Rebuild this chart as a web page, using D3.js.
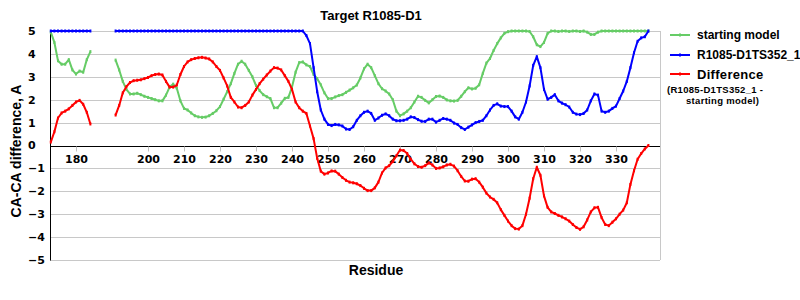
<!DOCTYPE html>
<html>
<head>
<meta charset="utf-8">
<script src="https://cdn.jsdelivr.net/npm/d3@7"></script>
<style>
  html, body { margin: 0; padding: 0; background: #fff; }
  svg { display: block; }
</style>
</head>
<body>
<svg id="chart" width="800" height="300"></svg>
<script>
// ---------- DATA ----------
const title = "Target R1085-D1";
const yTitle = "CA-CA difference, A";
const xTitle = "Residue";
const seriesNames = ["starting model", "R1085-D1TS352_1", "Difference"];
const diffNote = ["(R1085-D1TS352_1 -", "starting model)"];
const xTickValues = [180, 200, 210, 220, 230, 240, 250, 260, 270, 280, 290, 300, 310, 320, 330];
const yTickValues = [-5, -4, -3, -2, -1, 0, 1, 2, 3, 4, 5];

// residues 173..339 (185-190 have no data)
const residues = [
  173,174,175,176,177,178,179,180,181,182,183,184,
  185,186,187,188,189,190,
  191,192,193,194,195,196,197,198,199,200,
  201,202,203,204,205,206,207,208,209,210,
  211,212,213,214,215,216,217,218,219,220,
  221,222,223,224,225,226,227,228,229,230,
  231,232,233,234,235,236,237,238,239,240,
  241,242,243,244,245,246,247,248,249,250,
  251,252,253,254,255,256,257,258,259,260,
  261,262,263,264,265,266,267,268,269,270,
  271,272,273,274,275,276,277,278,279,280,
  281,282,283,284,285,286,287,288,289,290,
  291,292,293,294,295,296,297,298,299,300,
  301,302,303,304,305,306,307,308,309,310,
  311,312,313,314,315,316,317,318,319,320,
  321,322,323,324,325,326,327,328,329,330,
  331,332,333,334,335,336,337,338,339
];

const startingModel = [
  4.95,4.5,3.7,3.55,3.55,3.75,3.3,3.12,3.25,3.2,3.75,4.1,
  null,null,null,null,null,null,
  3.73,3.3,2.8,2.45,2.25,2.25,2.28,2.22,2.15,2.1,
  2.05,2.0,1.95,1.95,2.2,2.55,2.68,2.5,1.95,1.62,
  1.55,1.42,1.3,1.25,1.23,1.24,1.3,1.4,1.52,1.7,
  2.02,2.35,2.7,3.15,3.55,3.68,3.55,3.28,3.0,2.62,
  2.4,2.22,2.13,2.05,1.65,1.65,1.85,2.06,2.1,2.55,
  3.2,3.62,3.65,3.52,3.45,3.1,2.92,2.65,2.3,2.05,
  2.05,2.12,2.18,2.22,2.32,2.42,2.52,2.64,2.95,3.35,
  3.55,3.4,3.05,2.7,2.48,2.38,2.25,2.0,1.5,1.3,
  1.38,1.5,1.65,1.9,2.15,2.1,1.97,1.86,2.0,2.14,
  2.16,2.1,1.99,1.95,1.94,1.97,2.15,2.35,2.52,2.47,
  2.5,2.65,3.15,3.6,3.8,4.15,4.45,4.7,4.9,4.97,
  5.0,5.0,5.0,5.0,5.0,4.98,4.75,4.4,4.32,4.5,
  4.9,5.0,5.0,4.98,5.0,5.0,4.98,5.0,5.0,4.98,
  5.0,4.95,4.85,4.85,4.95,5.0,5.0,5.0,5.0,5.0,
  5.0,5.0,5.0,5.0,5.0,5.0,5.0,5.0,5.0
];

const model352 = [
  5,5,5,5,5,5,5,5,5,5,5,5,
  null,null,null,null,null,null,
  5,5,5,5,5,5,5,5,5,5,
  5,5,5,5,5,5,5,5,5,5,
  5,5,5,5,5,5,5,5,5,5,
  5,5,5,5,5,5,5,5,5,5,
  5,5,5,5,5,5,5,5,5,5,
  5,5,5,4.8,4.45,3.4,2.35,1.55,1.15,0.92,
  0.87,0.92,0.9,0.85,0.72,0.7,0.82,1.1,1.3,1.45,
  1.5,1.4,1.1,1.2,1.32,1.38,1.3,1.15,1.08,1.08,
  1.1,1.15,1.25,1.22,1.13,1.06,1.05,1.15,1.15,1.02,
  1.1,1.18,1.15,1.1,0.98,0.92,0.78,0.7,0.8,0.9,
  1.0,1.05,1.1,1.3,1.55,1.75,1.82,1.72,1.7,1.7,
  1.5,1.25,1.15,1.45,1.9,2.6,3.5,3.88,3.4,2.45,
  2.02,2.1,2.22,1.95,1.85,1.78,1.68,1.45,1.37,1.35,
  1.4,1.55,1.95,2.25,2.2,1.5,1.45,1.5,1.62,1.72,
  2.05,2.38,2.8,3.4,4.05,4.55,4.7,4.75,5.0
];

const difference = [
  0.15,0.6,1.2,1.42,1.5,1.6,1.75,1.9,1.97,1.8,1.45,0.94,
  null,null,null,null,null,null,
  1.33,1.75,2.3,2.57,2.75,2.83,2.85,2.87,2.92,2.97,
  3.05,3.1,3.12,3.08,2.8,2.55,2.55,2.64,3.1,3.45,
  3.65,3.75,3.8,3.83,3.85,3.82,3.78,3.65,3.45,3.28,
  2.95,2.6,2.1,1.9,1.68,1.65,1.75,1.9,2.2,2.45,
  2.7,2.9,3.08,3.25,3.4,3.38,3.3,3.05,2.8,2.45,
  1.9,1.65,1.5,1.4,0.85,0.3,-0.56,-1.12,-1.25,-1.2,
  -1.11,-1.12,-1.25,-1.4,-1.52,-1.6,-1.63,-1.67,-1.75,-1.87,
  -1.97,-1.97,-1.85,-1.6,-1.2,-0.98,-0.88,-0.7,-0.45,-0.2,
  -0.22,-0.35,-0.6,-0.8,-0.92,-0.95,-0.88,-0.76,-0.85,-1.0,
  -0.98,-0.93,-0.85,-0.82,-0.9,-1.1,-1.35,-1.55,-1.56,-1.47,
  -1.45,-1.6,-1.82,-2.08,-2.25,-2.35,-2.5,-2.8,-3.05,-3.3,
  -3.5,-3.63,-3.65,-3.5,-3.0,-2.3,-1.45,-0.95,-1.3,-2.2,
  -2.7,-2.9,-2.97,-3.05,-3.12,-3.2,-3.3,-3.45,-3.58,-3.66,
  -3.55,-3.25,-2.9,-2.72,-2.7,-3.15,-3.45,-3.5,-3.35,-3.2,
  -3.0,-2.82,-2.5,-1.7,-1.1,-0.6,-0.35,-0.15,0.0
];

const colors = ["#66cc66", "#0000ff", "#ff0000"];

// ---------- DRAW ----------
const svg = d3.select("#chart");
const plot = { left: 50, right: 660, top: 31, bottom: 260 };

const x = d3.scaleLinear().domain([172.78, 342.22]).range([plot.left, plot.right]);
const y = d3.scaleLinear().domain([-5, 5]).range([plot.bottom, plot.top]);

// gridlines
svg.append("g")
  .selectAll("line")
  .data(yTickValues.filter(v => v !== 0))
  .join("line")
  .attr("x1", plot.left).attr("x2", plot.right)
  .attr("y1", d => Math.round(y(d)) + 0.5).attr("y2", d => Math.round(y(d)) + 0.5)
  .attr("stroke", "#c8c8c8").attr("stroke-width", 1);

// right border
svg.append("line")
  .attr("x1", plot.right + 0.5).attr("x2", plot.right + 0.5)
  .attr("y1", plot.top).attr("y2", plot.bottom)
  .attr("stroke", "#c8c8c8");

// y axis (left) – black line, labels left-aligned
svg.append("line")
  .attr("x1", plot.left + 0.5).attr("x2", plot.left + 0.5)
  .attr("y1", plot.top).attr("y2", plot.bottom + 0.5)
  .attr("stroke", "#000");

const fmt = d3.format("d");
svg.append("g")
  .selectAll("text")
  .data(yTickValues)
  .join("text")
  .attr("x", 28)
  .attr("y", d => y(d))
  .attr("dy", "0.36em")
  .attr("font-family", "DejaVu Sans")
  .attr("font-weight", "bold")
  .attr("font-size", 11)
  .attr("fill", "#000")
  .text(d => fmt(d));

// x axis at zero
const y0 = Math.round(y(0)) + 0.5;
const xAxis = d3.axisBottom(x)
  .tickValues(xTickValues)
  .tickSize(5)
  .tickPadding(4)
  .tickFormat(d3.format("d"));
const gx = svg.append("g")
  .attr("transform", `translate(0,${y0})`)
  .call(xAxis);
gx.select(".domain").attr("stroke", "#000").attr("d", `M${plot.left},0H${plot.right}`);
gx.selectAll(".tick line").attr("stroke", "#c0c0c0");
gx.selectAll(".tick text")
  .attr("font-family", "DejaVu Sans")
  .attr("font-weight", "bold")
  .attr("font-size", 11)
  .attr("fill", "#000");

// series
const seriesData = [startingModel, model352, difference].map(vals =>
  residues.map((r, i) => ({ r, v: vals[i] }))
);

const line = d3.line()
  .defined(d => d.v !== null)
  .x(d => x(d.r))
  .y(d => y(d.v));

const gSeries = svg.append("g");
seriesData.forEach((data, si) => {
  gSeries.append("path")
    .datum(data)
    .attr("fill", "none")
    .attr("stroke", colors[si])
    .attr("stroke-width", 2)
    .attr("stroke-linejoin", "round")
    .attr("d", line);
  gSeries.append("g")
    .selectAll("rect")
    .data(data.filter(d => d.v !== null))
    .join("rect")
    .attr("x", d => x(d.r) - 1)
    .attr("y", d => y(d.v) - 1.5)
    .attr("width", 2)
    .attr("height", 3)
    .attr("fill", colors[si]);
});

// title
svg.append("text")
  .attr("x", 371).attr("y", 20)
  .attr("text-anchor", "middle")
  .attr("font-family", "Liberation Sans, Arial, sans-serif")
  .attr("font-weight", "bold")
  .attr("font-size", 13)
  .text(title);

// y title
svg.append("text")
  .attr("transform", "translate(21,151) rotate(-90)")
  .attr("text-anchor", "middle")
  .attr("font-family", "Liberation Sans, Arial, sans-serif")
  .attr("font-weight", "bold")
  .attr("font-size", 14)
  .text(yTitle);

// x title
svg.append("text")
  .attr("x", 376).attr("y", 275)
  .attr("text-anchor", "middle")
  .attr("font-family", "Liberation Sans, Arial, sans-serif")
  .attr("font-weight", "bold")
  .attr("font-size", 14)
  .text(xTitle);

// legend
const legendY = [35, 55, 74];
const gLeg = svg.append("g");
seriesNames.forEach((name, i) => {
  gLeg.append("line")
    .attr("x1", 670).attr("x2", 690)
    .attr("y1", legendY[i]).attr("y2", legendY[i])
    .attr("stroke", colors[i]).attr("stroke-width", 2);
  gLeg.append("rect")
    .attr("x", 679).attr("y", legendY[i] - 1.5)
    .attr("width", 2).attr("height", 3)
    .attr("fill", colors[i]);
  gLeg.append("text")
    .attr("x", 697).attr("y", legendY[i])
    .attr("dy", "0.35em")
    .attr("font-family", "Liberation Sans, Arial, sans-serif")
    .attr("font-weight", "bold")
    .attr("font-size", i === 2 ? 13 : 12)
    .attr("letter-spacing", i === 2 ? 0.3 : 0)
    .text(name);
});
gLeg.append("text")
  .attr("x", 667).attr("y", 89.5).attr("dy", "0.35em")
  .attr("font-family", "Liberation Sans, Arial, sans-serif")
  .attr("font-weight", "bold")
  .attr("font-size", 9.5)
  .attr("letter-spacing", 0.3)
  .text(diffNote[0]);
gLeg.append("text")
  .attr("x", 686).attr("y", 100.5).attr("dy", "0.35em")
  .attr("font-family", "Liberation Sans, Arial, sans-serif")
  .attr("font-weight", "bold")
  .attr("font-size", 9.5)
  .attr("letter-spacing", 0.3)
  .text(diffNote[1]);
</script>
</body>
</html>
